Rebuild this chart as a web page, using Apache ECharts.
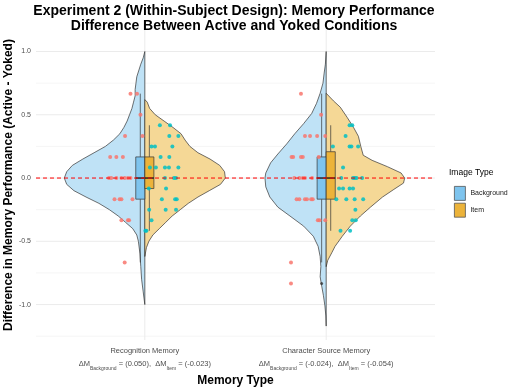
<!DOCTYPE html>
<html>
<head>
<meta charset="utf-8">
<script src="https://cdn.jsdelivr.net/npm/echarts@6/dist/echarts.min.js"></script>
<style>
  html, body { margin: 0; padding: 0; background: #fff; }
  #chart { width: 520px; height: 390px; }
</style>
</head>
<body>
<div id="chart"></div>
<script>
// ---------- data ----------
var categories = ['Recognition Memory', 'Character Source Memory'];
var deltaBackground = ['0.050', '-0.024'];
var deltaItem = ['-0.023', '-0.054'];
var yTicks = [-1, -0.5, 0, 0.5, 1];
var gridMajor = [-1, -0.5, 0, 0.5, 1];
var gridMinor = [-1.25, -0.75, -0.25, 0.25, 0.75];
var refLine = [0];

// violin halves: [y, relative density]
var recBgViolin = [[1.0,0],[0.95,0.02],[0.9,0.05],[0.8,0.1],[0.75,0.11],[0.7,0.12],[0.65,0.12],[0.6,0.14],[0.55,0.16],[0.5,0.19],[0.45,0.22],[0.4,0.26],[0.35,0.31],[0.3,0.39],[0.25,0.49],[0.2,0.63],[0.15,0.77],[0.1,0.9],[0.05,0.97],[0,1.0],[-0.05,0.97],[-0.1,0.88],[-0.15,0.73],[-0.2,0.57],[-0.25,0.44],[-0.3,0.33],[-0.35,0.24],[-0.4,0.15],[-0.45,0.1],[-0.5,0.08],[-0.6,0.06],[-0.7,0.05],[-0.8,0.04],[-0.9,0.02],[-1.0,0]];
var recItemViolin = [[0.62,0],[0.6,0.03],[0.55,0.06],[0.5,0.13],[0.45,0.24],[0.4,0.35],[0.35,0.45],[0.3,0.5],[0.25,0.56],[0.2,0.66],[0.15,0.81],[0.1,0.93],[0.05,0.99],[0,1.0],[-0.05,0.94],[-0.1,0.8],[-0.15,0.66],[-0.2,0.54],[-0.25,0.44],[-0.3,0.34],[-0.35,0.26],[-0.4,0.18],[-0.45,0.1],[-0.5,0.05],[-0.55,0.02],[-0.62,0]];
var chrBgViolin = [[1.0,0],[0.9,0.01],[0.83,0.025],[0.75,0.04],[0.67,0.075],[0.59,0.12],[0.51,0.18],[0.43,0.28],[0.35,0.39],[0.27,0.49],[0.19,0.6],[0.12,0.69],[0.04,0.75],[0,0.76],[-0.07,0.75],[-0.15,0.7],[-0.23,0.6],[-0.3,0.45],[-0.38,0.28],[-0.46,0.16],[-0.54,0.1],[-0.62,0.075],[-0.7,0.066],[-0.78,0.075],[-0.86,0.054],[-0.93,0.034],[-1.01,0.016],[-1.09,0.004],[-1.17,0]];
var chrItemViolin = [[0.67,0],[0.61,0.09],[0.56,0.175],[0.48,0.26],[0.4,0.34],[0.33,0.4],[0.25,0.43],[0.18,0.46],[0.14,0.57],[0.09,0.76],[0.04,0.93],[0,0.975],[-0.04,0.96],[-0.09,0.84],[-0.15,0.7],[-0.23,0.55],[-0.3,0.425],[-0.38,0.3],[-0.46,0.2],[-0.54,0.11],[-0.59,0.07],[-0.65,0.02],[-0.7,0]];

// boxplot stats: [min, q1, median, q3, max]
var boxBackground = [[-0.667,-0.167,0,0.167,0.667],[-0.667,-0.167,0,0.167,0.667]];
var boxItem = [[-0.417,-0.083,0,0.167,0.417],[-0.417,-0.167,0,0.208,0.417]];
var outliersBackground = [[2, -0.833]];

// jittered points: [x offset from category, value]
var recBgPoints = [[-0.079,0.667],[-0.043,0.667],[-0.024,0.5],[-0.109,0.333],[-0.013,0.333],[-0.191,0.167],[-0.157,0.167],[-0.121,0.167],[-0.198,0],[-0.185,0],[-0.157,0],[-0.129,0],[-0.111,0],[-0.093,0],[-0.079,0],[-0.167,-0.167],[-0.139,-0.167],[-0.129,-0.167],[-0.068,-0.167],[-0.129,-0.333],[-0.093,-0.333],[-0.087,-0.333],[-0.111,-0.667]];
var recItemPoints = [[0.083,0.417],[0.139,0.417],[0.135,0.333],[0.185,0.333],[0.037,0.25],[0.056,0.25],[0.152,0.25],[0.087,0.167],[0.135,0.167],[0.028,0.083],[0.061,0.083],[0.111,0.083],[0.133,0.083],[0.185,0.083],[0.111,0],[0.161,0],[0.172,0],[0.117,-0.083],[0.022,-0.083],[0.094,-0.167],[0.167,-0.167],[0.176,-0.167],[0.115,-0.25],[0.172,-0.25],[0.024,-0.25],[0.037,-0.333],[0.009,-0.417],[0.003,-0.417]];
var chrBgPoints = [[-0.139,0.667],[-0.028,0.5],[-0.117,0.333],[-0.089,0.333],[-0.05,0.333],[-0.005,0.333],[-0.191,0.167],[-0.182,0.167],[-0.139,0.167],[-0.129,0.167],[-0.041,0.167],[-0.176,0],[-0.148,0],[-0.129,0],[-0.117,0],[-0.078,0],[-0.163,-0.167],[-0.148,-0.167],[-0.117,-0.167],[-0.106,-0.167],[-0.083,-0.167],[-0.074,-0.167],[-0.046,-0.333],[-0.037,-0.333],[-0.005,-0.333],[-0.194,-0.667],[-0.194,-0.833]];
var chrItemPoints = [[0.129,0.417],[0.144,0.417],[0.107,0.333],[0.037,0.25],[0.129,0.25],[0.139,0.25],[0.176,0.25],[0.093,0.083],[0.083,0],[0.148,0],[0.157,0],[0.167,0],[0.198,0],[0.071,-0.083],[0.093,-0.083],[0.129,-0.083],[0.148,-0.083],[0.056,-0.167],[0.111,-0.167],[0.157,-0.167],[0.204,-0.167],[0.161,-0.25],[0.144,-0.333],[0.163,-0.333],[0.079,-0.417],[0.132,-0.417]];

// ---------- styling ----------
var FONT = "'Liberation Sans', Arial, sans-serif";
var X_MIN = 0.4, X_MAX = 2.6, Y_MIN = -1.28, Y_MAX = 1.17;
var VIOLIN_MAX = 0.444;   // half width (x units) for density 1
var BOX_W = 0.05;
var BG_FILL = '#BFE2F6', ITEM_FILL = '#F5D896';
var BG_BOX = '#7EC4EE', ITEM_BOX = '#ECB33A';

function violinRender(halves, side, fill) {
  return function (params, api) {
    var cx = api.value(0);
    var d = halves[params.dataIndex];
    var pts = [];
    for (var i = 0; i < d.length; i++) {
      pts.push(api.coord([cx + side * d[i][1] * VIOLIN_MAX, d[i][0]]));
    }
    pts.push(api.coord([cx, d[d.length - 1][0]]));
    pts.push(api.coord([cx, d[0][0]]));
    return {
      type: 'polygon',
      shape: { points: pts },
      style: { fill: fill, stroke: '#333333', lineWidth: 0.7 }
    };
  };
}

function boxRender(stats, side, fill) {
  return function (params, api) {
    var cx = api.value(0);
    var s = stats[params.dataIndex];
    var x0 = side < 0 ? cx - BOX_W : cx;
    var x1 = x0 + BOX_W;
    var xm = (x0 + x1) / 2;
    var pMin = api.coord([xm, s[0]]), pQ1 = api.coord([x0, s[1]]);
    var pMed0 = api.coord([x0, s[2]]), pMed1 = api.coord([x1, s[2]]);
    var pQ3 = api.coord([x1, s[3]]), pMax = api.coord([xm, s[4]]);
    var q1Mid = api.coord([xm, s[1]]), q3Mid = api.coord([xm, s[3]]);
    var line = { stroke: '#333333', lineWidth: 0.7 };
    return {
      type: 'group',
      children: [
        { type: 'line', shape: { x1: pMax[0], y1: pMax[1], x2: q3Mid[0], y2: q3Mid[1] }, style: line },
        { type: 'line', shape: { x1: q1Mid[0], y1: q1Mid[1], x2: pMin[0], y2: pMin[1] }, style: line },
        { type: 'rect', shape: { x: pQ1[0], y: pQ3[1], width: pQ3[0] - pQ1[0], height: pQ1[1] - pQ3[1] },
          style: { fill: fill, stroke: '#333333', lineWidth: 0.7 } },
        { type: 'line', shape: { x1: pMed0[0], y1: pMed0[1], x2: pMed1[0], y2: pMed1[1] },
          style: { stroke: '#1a1a1a', lineWidth: 1.4 } }
      ]
    };
  };
}

function hLineRender(color, width, dash) {
  return function (params, api) {
    var v = api.value(1);
    var a = api.coord([X_MIN, v]), b = api.coord([X_MAX, v]);
    return { type: 'line', shape: { x1: a[0], y1: a[1], x2: b[0], y2: b[1] },
      style: { stroke: color, lineWidth: width, lineDash: dash || null } };
  };
}

function jitter(points, cat) {
  return points.map(function (p) { return [cat + p[0], p[1]]; });
}

var catIdx = categories.map(function (c, i) { return [i + 1, 0]; });

var chart = echarts.init(document.getElementById('chart'));
var option = {
  animation: false,
  textStyle: { fontFamily: FONT },
  graphic: [
    { type: 'text', x: 234, y: 4, z: 10,
      style: { text: 'Experiment 2 (Within-Subject Design): Memory Performance\nDifference Between Active and Yoked Conditions',
        font: 'bold 14px ' + FONT, fill: '#000', align: 'center', lineHeight: 15 } },
    { type: 'text', x: 449, y: 168,
      style: { text: 'Image Type', font: '8.5px ' + FONT, fill: '#000' } }
  ],
  legend: {
    data: ['Background', 'Item'],
    orient: 'vertical',
    left: 449, top: 181,
    icon: 'rect',
    itemWidth: 11, itemHeight: 14, itemGap: 2,
    textStyle: { fontSize: 7, color: '#1a1a1a', fontFamily: FONT },
    itemStyle: { borderColor: '#555', borderWidth: 0.8 }
  },
  grid: { left: 36, right: 85, top: 30, bottom: 50, outerBoundsMode: 'none' },
  xAxis: {
    type: 'value', min: X_MIN, max: X_MAX,
    name: 'Memory Type', nameLocation: 'middle', nameGap: 35, nameMoveOverlap: false,
    nameTextStyle: { fontSize: 12, fontWeight: 'bold', color: '#000', fontFamily: FONT },
    axisLine: { show: false }, axisTick: { show: false }, splitLine: { show: false },
    axisLabel: {
      customValues: [1, 2], margin: 4, fontSize: 7.5, color: '#4D4D4D', lineHeight: 13.5,
      formatter: function (v) {
        var i = Math.round(v) - 1;
        return categories[i] + '\n{t|\u0394M}{s|Background}{t| = (' + deltaBackground[i] + '),  \u0394M}{s|Item}{t| = (' + deltaItem[i] + ')}';
      },
      rich: {
        t: { fontSize: 7.5, color: '#4D4D4D', lineHeight: 13.5, fontFamily: FONT },
        s: { fontSize: 5, color: '#4D4D4D', lineHeight: 10.5, verticalAlign: 'bottom', fontFamily: FONT }
      }
    }
  },
  yAxis: {
    type: 'value', min: Y_MIN, max: Y_MAX,
    name: 'Difference in Memory Performance (Active - Yoked)', nameLocation: 'middle', nameGap: 21, nameRotate: 90,
    nameMoveOverlap: false,
    nameTextStyle: { fontSize: 12, fontWeight: 'bold', color: '#000', fontFamily: FONT },
    axisLine: { show: false }, axisTick: { show: false }, splitLine: { show: false },
    axisLabel: {
      customValues: yTicks, margin: 5, fontSize: 7, color: '#4D4D4D',
      formatter: function (v) { return v.toFixed(1); }
    }
  },
  series: [
    { type: 'custom', name: 'gridMinor', z: 0, silent: true,
      data: gridMinor.map(function (v) { return [X_MIN, v]; }),
      renderItem: hLineRender('#F3F3F3', 0.8) },
    { type: 'custom', name: 'gridMajor', z: 0, silent: true,
      data: gridMajor.map(function (v) { return [X_MIN, v]; }),
      renderItem: hLineRender('#EBEBEB', 1) },
    { type: 'custom', name: 'gridX', z: 0, silent: true,
      data: catIdx,
      renderItem: function (params, api) {
        var a = api.coord([api.value(0), Y_MIN]), b = api.coord([api.value(0), Y_MAX]);
        return { type: 'line', shape: { x1: a[0], y1: a[1], x2: b[0], y2: b[1] }, style: { stroke: '#EBEBEB', lineWidth: 1 } };
      } },
    { type: 'custom', name: 'Background', z: 1, data: catIdx,
      itemStyle: { color: BG_BOX },
      renderItem: violinRender([recBgViolin, chrBgViolin], -1, BG_FILL) },
    { type: 'custom', name: 'Item', z: 1, data: catIdx,
      itemStyle: { color: ITEM_BOX },
      renderItem: violinRender([recItemViolin, chrItemViolin], 1, ITEM_FILL) },
    { type: 'custom', name: 'boxBg', z: 2, data: catIdx,
      renderItem: boxRender(boxBackground, -1, BG_BOX) },
    { type: 'custom', name: 'boxItem', z: 2, data: catIdx,
      renderItem: boxRender(boxItem, 1, ITEM_BOX) },
    { type: 'scatter', name: 'ptsBg', z: 3, symbolSize: 4,
      itemStyle: { color: '#F8766D', opacity: 0.85 },
      data: jitter(recBgPoints, 1).concat(jitter(chrBgPoints, 2)) },
    { type: 'scatter', name: 'ptsItem', z: 3, symbolSize: 4,
      itemStyle: { color: '#00BFC4', opacity: 0.85 },
      data: jitter(recItemPoints, 1).concat(jitter(chrItemPoints, 2)) },
    { type: 'scatter', name: 'outliers', z: 4, symbolSize: 3,
      itemStyle: { color: '#333333', opacity: 0.8 },
      data: outliersBackground.map(function (p) { return [p[0] - BOX_W / 2, p[1]]; }) },
    { type: 'custom', name: 'zeroLine', z: 5, silent: true,
      data: refLine.map(function (v) { return [X_MIN, v]; }),
      renderItem: hLineRender('#FF0000', 1, [4, 3]) }
  ]
};
chart.setOption(option);
window.addEventListener('resize', function () { chart.resize(); });
</script>
</body>
</html>
